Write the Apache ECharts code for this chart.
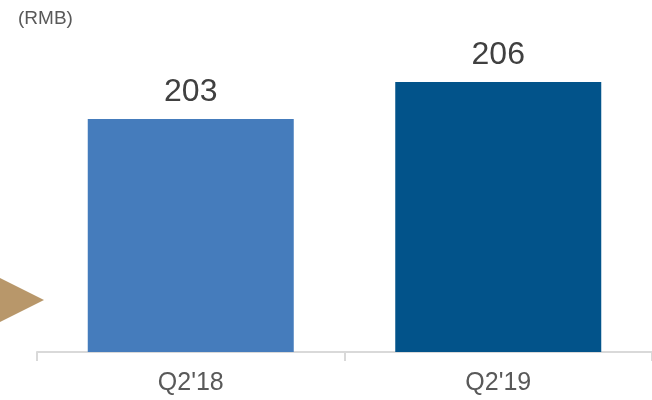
<!DOCTYPE html>
<html>
<head>
<meta charset="utf-8">
<script src="https://cdn.jsdelivr.net/npm/echarts@6/dist/echarts.min.js"></script>
<style>html,body{margin:0;padding:0;background:#fff;}#c{width:652px;height:400px;}</style>
</head>
<body>
<div id="c"></div>
<script>
var categories = ["Q2'18", "Q2'19"];
var values = [203, 206];
var barColors = ['#457CBC', '#02538A'];
var unitLabel = '(RMB)';

var chart = echarts.init(document.getElementById('c'), null, {renderer: 'canvas'});
chart.setOption({
  animation: false,
  backgroundColor: '#ffffff',
  grid: {left: 37, right: -1, top: 33, bottom: 48, containLabel: false},
  xAxis: {
    type: 'category',
    data: categories,
    axisLine: {lineStyle: {color: '#D9D9D9', width: 2}},
    axisTick: {show: true, length: 9, lineStyle: {color: '#D9D9D9', width: 2}},
    axisLabel: {color: '#595959', fontSize: 25, fontFamily: 'Liberation Sans', margin: 19}
  },
  yAxis: {
    type: 'value', min: 184, max: 210, show: false,
    splitLine: {show: false}
  },
  series: [{
    type: 'bar',
    barWidth: 206,
    data: values.map(function (v, i) { return {value: v, itemStyle: {color: barColors[i]}}; }),
    label: {show: true, position: 'top', distance: 11, color: '#404040', fontSize: 32, fontFamily: 'Liberation Sans'}
  }],
  graphic: [
    {type: 'text', left: 18, top: 9, style: {text: unitLabel, fill: '#595959', font: '19px "Liberation Sans"'}},
    {type: 'polygon', shape: {points: [[0, 278], [44, 300], [0, 322]]}, style: {fill: '#B8976A'}}
  ]
});
</script>
</body>
</html>
